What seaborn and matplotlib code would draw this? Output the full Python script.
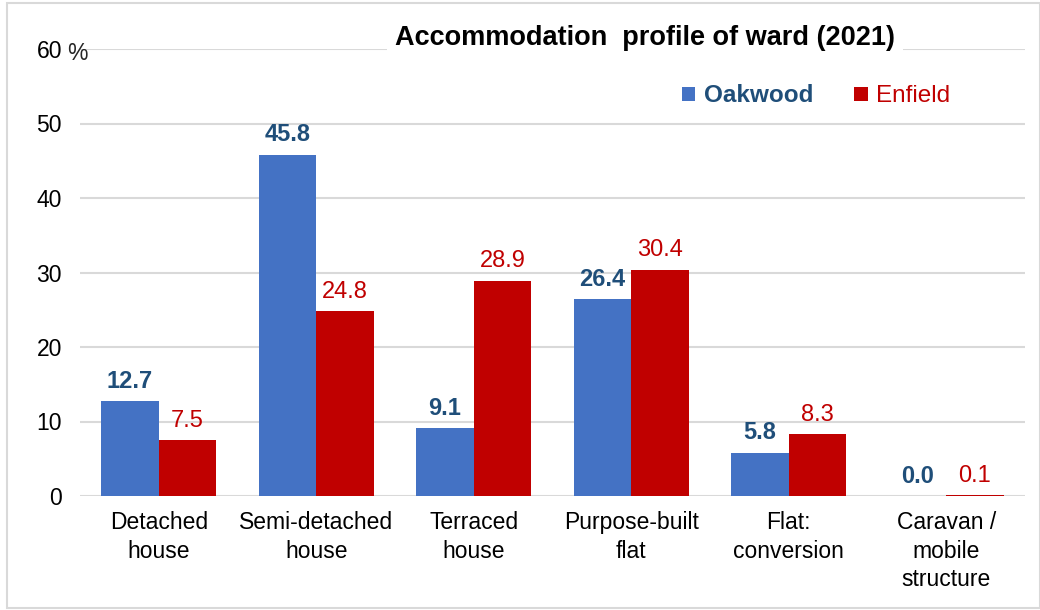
import matplotlib
matplotlib.use("Agg")
import matplotlib.pyplot as plt
from matplotlib.patches import Rectangle, Patch
import seaborn as sns
import pandas as pd

categories = ["Detached\nhouse", "Semi-detached\nhouse", "Terraced\nhouse",
              "Purpose-built\nflat", "Flat:\nconversion", "Caravan /\nmobile\nstructure"]
oakwood = [12.7, 45.8, 9.1, 26.4, 5.8, 0.0]
enfield = [7.5, 24.8, 28.9, 30.4, 8.3, 0.1]
series = ["Oakwood", "Enfield"]
yticks = [0, 10, 20, 30, 40, 50, 60]
title = "Accommodation  profile of ward (2021)"

bar_colors = ["#4472C4", "#C00000"]
label_colors = ["#1F4E79", "#C00000"]

df = pd.DataFrame({
    "category": categories * 2,
    "value": oakwood + enfield,
    "series": [series[0]] * len(categories) + [series[1]] * len(categories),
})

sns.set_theme(style="white")
plt.rcParams["font.family"] = ["Liberation Sans", "DejaVu Sans"]

fig = plt.figure(figsize=(10.4, 6.1), dpi=100)
ax = fig.add_axes([80/1040, 1-496/610, (1025-80)/1040, (496-49)/610])

sns.barplot(data=df, x="category", y="value", hue="series", order=categories,
            hue_order=series, palette=bar_colors, width=0.73, gap=0,
            saturation=1, ax=ax, legend=False, edgecolor="none")

ax.set_ylim(0, 60)
ax.set_yticks(yticks)
ax.set_yticklabels([str(v) for v in yticks])
ax.yaxis.grid(True, color="#D9D9D9", linewidth=1.5)
ax.set_axisbelow(True)
for s in ax.spines.values():
    s.set_visible(False)
ax.tick_params(axis="y", length=0, pad=13, labelsize=16.5, labelcolor="#000000")
ax.tick_params(axis="x", length=0, pad=11, labelsize=16.5, labelcolor="#000000")
for t in ax.get_xticklabels():
    t.set_linespacing(1.3)
ax.set_xlabel("")
ax.set_ylabel("")
ax.set_xlim(-0.5, len(categories) - 0.5)

ax.annotate("%", xy=(0, 60), xycoords=("axes fraction", "data"),
            xytext=(-9, -3), textcoords="offset points", ha="left", va="center",
            fontsize=16.5)

for i, cont in enumerate(ax.containers):
    ax.bar_label(cont, fmt="%.1f", padding=6, color=label_colors[i],
                 fontsize=17, fontweight="bold" if i == 0 else "normal")

fig.text(645/1040, 1-38/610, title, ha="center", va="center", fontsize=19.5,
         fontweight="bold", color="#000000",
         bbox=dict(facecolor="white", edgecolor="none", pad=6))

handles = [Patch(facecolor=c, edgecolor="none") for c in bar_colors]
leg = fig.legend(handles, series, loc="center", bbox_to_anchor=(816/1040, 1-96/610),
                 ncol=2, frameon=False, fontsize=17.5, handlelength=0.55,
                 handleheight=0.55, handletextpad=0.35, columnspacing=1.7)
for t, c, w in zip(leg.get_texts(), label_colors, ["bold", "normal"]):
    t.set_color(c)
    t.set_fontweight(w)

fig.patches.append(Rectangle((7/1040, 2/610), 1 - 7/1040, 1 - 5/610,
                             transform=fig.transFigure, fill=False,
                             edgecolor="#D9D9D9", linewidth=1.5))

fig.savefig("out.png", dpi=100)
